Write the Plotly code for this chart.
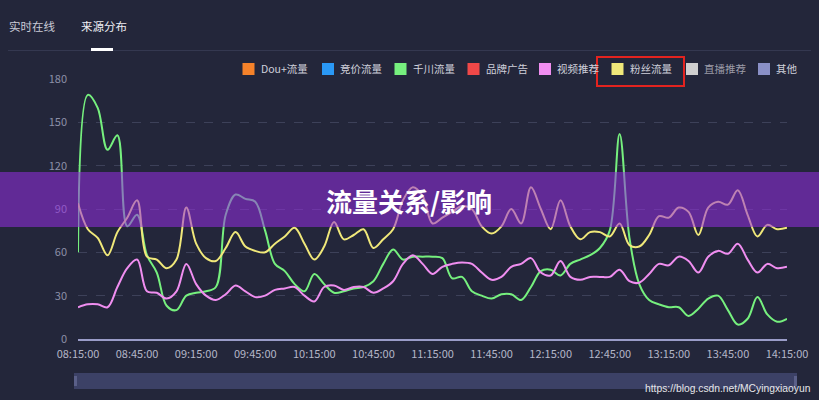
import pandas as pd
import plotly.graph_objects as go

# ---------------- data ----------------
times = pd.date_range("2023-01-01 08:15:00", "2023-01-01 14:15:00", freq="5min")

qianchuan = [60, 169, 160, 131, 141, 78, 86, 58, 46, 23, 20, 30, 32, 33, 36, 86, 100, 97, 95,
             75, 52, 47, 38, 33, 45, 38, 32, 33, 35, 36, 40, 52, 62, 55, 57, 57, 57, 56, 42,
             43, 33, 30, 28, 31, 31, 27, 36, 47, 48, 44, 52, 55, 58, 63, 75, 142, 70, 38, 27,
             24, 22, 22, 16, 21, 28, 30, 20, 10, 14, 29, 17, 12, 14]
shipin = [22, 24, 24, 22, 36, 49, 55, 33, 32, 28, 33, 52, 38, 30, 27, 31, 37, 33, 29,
          30, 34, 35, 36, 30, 26, 36, 37, 34, 36, 36, 32, 35, 40, 52, 58, 52, 45, 50, 52,
          53, 52, 46, 41, 43, 50, 52, 56, 46, 44, 54, 43, 41, 43, 43, 43, 48, 40, 39, 45,
          52, 51, 57, 54, 46, 57, 61, 59, 66, 55, 46, 52, 49, 50]
fensi = [94, 76, 70, 58, 74, 84, 96, 57, 55, 49, 55, 91, 66, 56, 54, 63, 74, 64, 61,
         60, 66, 71, 77, 66, 55, 64, 81, 69, 72, 76, 63, 69, 76, 96, 105, 99, 80, 84, 88,
         92, 90, 78, 73, 78, 90, 80, 105, 90, 76, 96, 78, 69, 74, 74, 71, 80, 65, 64, 72,
         85, 84, 91, 88, 72, 91, 95, 93, 103, 86, 71, 79, 76, 77]

legend_names = ["Dou+流量", "竞价流量", "千川流量", "品牌广告", "视频推荐", "粉丝流量", "直播推荐", "其他"]
legend_colors = ["#f5822a", "#2a98f5", "#76f07e", "#f04848", "#f08ef0", "#f0e87a", "#cfcfcf", "#8a90c6"]
y_ticks = [0, 30, 60, 90, 120, 150, 180]
tabs = ["实时在线", "来源分布"]
banner_text = "流量关系/影响"
watermark = "https://blog.csdn.net/MCyingxiaoyun"

# ---------------- layout helpers ----------------
W, H = 819, 400
ML, MR, MT, MB = 78, 32, 79, 61
PW, PH = W - ML - MR, H - MT - MB
BG = "#23263a"
FONT = "Noto Sans CJK SC, Noto Sans, sans-serif"


def px(x):
    return (x - ML) / PW


def py(y):
    return (H - MB - y) / PH


fig = go.Figure()

series = [(qianchuan, "千川流量", legend_colors[2]),
          (shipin, "视频推荐", legend_colors[4]),
          (fensi, "粉丝流量", legend_colors[5])]
for vals, name, col in series:
    fig.add_trace(go.Scatter(x=times, y=vals, name=name, mode="lines",
                             line=dict(color=col, width=2, shape="spline", smoothing=1.0),
                             showlegend=False, hoverinfo="skip"))

shapes = []
annotations = []

# tabs
annotations.append(dict(text=tabs[0], x=px(7), y=py(25.5), xref="paper", yref="paper",
                        xanchor="left", yanchor="middle", showarrow=False,
                        font=dict(family=FONT, size=11.5, color="#c9cad6")))
annotations.append(dict(text=tabs[1], x=px(79), y=py(25.5), xref="paper", yref="paper",
                        xanchor="left", yanchor="middle", showarrow=False,
                        font=dict(family=FONT, size=11.5, color="#eeeef4")))
shapes.append(dict(type="line", xref="paper", yref="paper", x0=px(8), x1=px(811),
                   y0=py(50.5), y1=py(50.5), line=dict(color="#343850", width=1)))
shapes.append(dict(type="line", xref="paper", yref="paper", x0=px(91), x1=px(113),
                   y0=py(49.5), y1=py(49.5), line=dict(color="#ffffff", width=3)))

# legend
leg_x = [242.5, 322, 394.5, 467.5, 539, 611.5, 686, 758]
for i, (nm, col) in enumerate(zip(legend_names, legend_colors)):
    x0 = leg_x[i]
    shapes.append(dict(type="rect", xref="paper", yref="paper", x0=px(x0), x1=px(x0 + 12),
                       y0=py(63), y1=py(75), fillcolor=col, line=dict(width=0)))
    tcol = "#9c9ca8" if nm == "直播推荐" else "#cfd0da"
    annotations.append(dict(text=nm, x=px(x0 + 16), y=py(69), xref="paper", yref="paper",
                            xanchor="left", yanchor="middle", showarrow=False,
                            font=dict(family=FONT, size=10.5, color=tcol)))
# red highlight box
shapes.append(dict(type="rect", xref="paper", yref="paper", x0=px(597), x1=px(684),
                   y0=py(57), y1=py(86), line=dict(color="#e3231f", width=2),
                   fillcolor="rgba(0,0,0,0)"))

# slider
shapes.append(dict(type="rect", xref="paper", yref="paper", x0=px(74), x1=px(797),
                   y0=py(373), y1=py(389), fillcolor="#3c4166", line=dict(width=0)))
shapes.append(dict(type="rect", xref="paper", yref="paper", x0=px(74), x1=px(77),
                   y0=py(376), y1=py(386), fillcolor="#5a5f88", line=dict(width=0)))
shapes.append(dict(type="rect", xref="paper", yref="paper", x0=px(794), x1=px(797),
                   y0=py(376), y1=py(386), fillcolor="#5a5f88", line=dict(width=0)))

# banner overlay
shapes.append(dict(type="rect", xref="paper", yref="paper", x0=px(0), x1=px(819),
                   y0=py(172), y1=py(227), fillcolor="rgba(150,45,225,0.55)",
                   line=dict(width=0), layer="above"))
annotations.append(dict(text="<b>" + banner_text + "</b>", x=px(409), y=py(200),
                        xref="paper", yref="paper", xanchor="center", yanchor="middle",
                        showarrow=False, font=dict(family=FONT, size=26, color="#ffffff")))

# watermark
annotations.append(dict(text=watermark, x=px(813), y=py(388), xref="paper", yref="paper",
                        xanchor="right", yanchor="middle", showarrow=False,
                        font=dict(family="Liberation Sans, Arial, sans-serif", size=10.3,
                                  color="#e6e6ea")))

fig.update_layout(
    width=W, height=H, autosize=False,
    margin=dict(l=ML, r=MR, t=MT, b=MB, pad=0),
    paper_bgcolor=BG, plot_bgcolor=BG,
    shapes=shapes, annotations=annotations,
    showlegend=False,
    xaxis=dict(type="date", range=[times[0], times[-1]], tick0=times[0],
               dtick=30 * 60 * 1000, tickformat="%H:%M:%S", showgrid=False,
               zeroline=False, showline=True, linecolor="#9a9cc8", linewidth=2,
               ticks="", tickfont=dict(family=FONT, size=11, color="#b4b6c8"),
               ticklabelstandoff=4, fixedrange=True),
    yaxis=dict(range=[0, 180], tickvals=y_ticks, showgrid=True, gridcolor="#3d4159",
               griddash="dash", gridwidth=1, zeroline=False, showline=False, ticks="",
               tickfont=dict(family=FONT, size=11, color="#8c90a8"),
               ticklabelstandoff=10, fixedrange=True),
)

fig.write_html("out.html", config={"displayModeBar": False},
               post_script="document.body.style.margin='0';"
                           "document.body.style.overflow='hidden';"
                           "document.body.style.background='" + BG + "';")
